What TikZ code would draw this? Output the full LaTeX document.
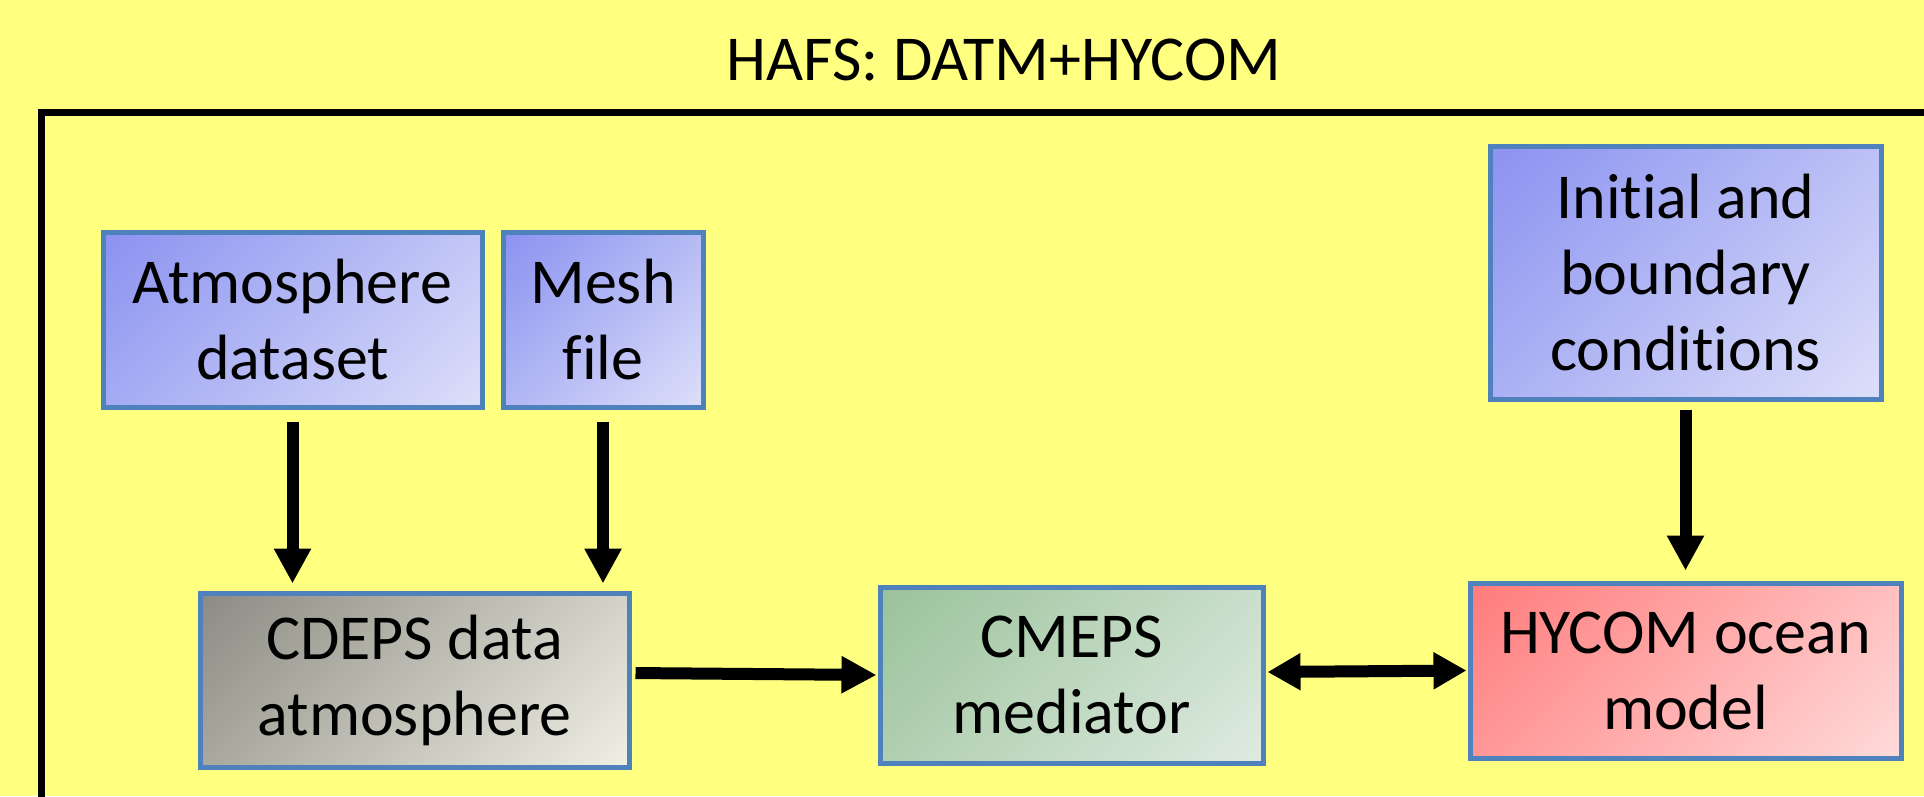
\documentclass[tikz,border=0pt]{standalone}
\usepackage{fontspec}
\setmainfont{Carlito}[Ligatures={NoCommon,NoContextual,NoRare}]
\usetikzlibrary{arrows.meta}
\definecolor{bg}{HTML}{FFFF80}
\definecolor{edge}{HTML}{4F81BD}
\definecolor{blueA}{HTML}{8A92F0}
\definecolor{blueB}{HTML}{DDDFF9}
\definecolor{grayA}{HTML}{8C8B83}
\definecolor{grayB}{HTML}{F0EFE4}
\definecolor{greenA}{HTML}{9AC29A}
\definecolor{greenB}{HTML}{DFEBE1}
\definecolor{redA}{HTML}{FF7B7B}
\definecolor{redB}{HTML}{FFDBDB}
\pgfdeclarehorizontalshading{diagblue}{100bp}{color(0bp)=(blueA); color(14.6bp)=(blueA); color(85.4bp)=(blueB); color(100bp)=(blueB)}
\pgfdeclarehorizontalshading{diaggray}{100bp}{color(0bp)=(grayA); color(14.6bp)=(grayA); color(85.4bp)=(grayB); color(100bp)=(grayB)}
\pgfdeclarehorizontalshading{diaggreen}{100bp}{color(0bp)=(greenA); color(14.6bp)=(greenA); color(85.4bp)=(greenB); color(100bp)=(greenB)}
\pgfdeclarehorizontalshading{diagred}{100bp}{color(0bp)=(redA); color(14.6bp)=(redA); color(85.4bp)=(redB); color(100bp)=(redB)}
\begin{document}
\begin{tikzpicture}[x=1pt,y=-1pt,
  box/.style={draw=edge, line width=5pt, inner sep=0pt, align=center,
    font=\fontsize{64}{76}\selectfont},
  bluebox/.style={box, shade, shading=diagblue, shading angle=-45},
  graybox/.style={box, shade, shading=diaggray, shading angle=-45},
  greenbox/.style={box, shade, shading=diaggreen, shading angle=-45},
  redbox/.style={box, shade, shading=diagred, shading angle=-45},
  conn/.style={line width=12pt, -{Triangle[width=35pt,length=35pt]}},
  dconn/.style={line width=12pt, {Triangle[width=35pt,length=33pt]}-{Triangle[width=35pt,length=33pt]}},
  titlefont/.style={font=\fontsize{64}{76}\selectfont, inner sep=0pt}
]
\useasboundingbox (0,0) rectangle (1924,796);
\fill[bg] (0,0) rectangle (1924,796);
\begin{scope}
\clip (0,0) rectangle (1924,796);
\draw[line width=7pt, line join=miter] (41,840) -- (41,112) -- (1970,112);
\end{scope}

\node[titlefont, anchor=base] (title) at (1004,80) {HAFS: DATM+HYCOM};

\node[bluebox, minimum width=379pt, minimum height=175pt] (atm) at (292.5,319.5) {Atmosphere\\dataset};
\node[bluebox, minimum width=200pt, minimum height=175pt] (mesh) at (603,319.5) {Mesh\\f\kern0pt ile};
\node[bluebox, minimum width=391pt, minimum height=253pt] (init) at (1685.5,272.5) {Init\kern0pt ial and\\boundary\\condit\kern0pt ions};
\node[graybox, minimum width=429pt, minimum height=174pt] (cdeps) at (414.5,680) {CDEPS data\\atmosphere};
\node[greenbox, minimum width=383pt, minimum height=176pt] (cmeps) at (1071.5,675) {CMEPS\\mediator};
\node[redbox, minimum width=431pt, minimum height=175pt] (hycom) at (1685.5,670.5) {HYCOM ocean\\model};

\draw[conn, shorten <=12pt, shorten >=7pt] (atm.south) -- (atm.south |- cdeps.north);
\draw[conn, shorten <=12pt, shorten >=7pt] (mesh.south) -- (mesh.south |- cdeps.north);
\draw[conn, shorten <=8pt, shorten >=10pt] (init.south) -- (hycom.north);
\draw[conn, shorten <=4pt, shorten >=1pt] ([yshift=7pt]cdeps.east) -- (cmeps.west);
\draw[dconn, shorten <=2pt, shorten >=1pt] ([yshift=3pt]cmeps.east) -- (hycom.west);
\end{tikzpicture}
\end{document}
